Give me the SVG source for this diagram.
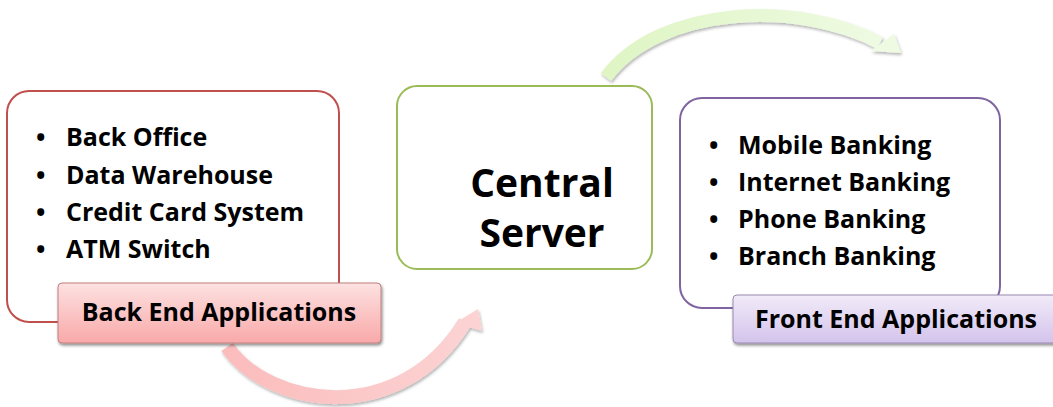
<svg xmlns="http://www.w3.org/2000/svg" width="1053" height="407" viewBox="0 0 1053 407">
<style>
.box{fill:#fff;stroke-width:2}
.t{font-family:"Open Sans","Noto Sans","Liberation Sans",sans-serif;font-weight:bold;fill:#000}
.li{font-size:25px}
.b{font-size:25px}
.lab{font-size:25px}
</style>
<defs>
<linearGradient id="gPink" x1="0" y1="0" x2="0" y2="1"><stop offset="0" stop-color="#fde1e1"/><stop offset="1" stop-color="#f9a9a9"/></linearGradient>
<linearGradient id="gPurp" x1="0" y1="0" x2="0" y2="1"><stop offset="0" stop-color="#f1ebf8"/><stop offset="1" stop-color="#d4c3ec"/></linearGradient>
<linearGradient id="gGreen" x1="0" y1="0" x2="1" y2="0"><stop offset="0" stop-color="#dff5c4"/><stop offset="1" stop-color="#eefae2"/></linearGradient>
<linearGradient id="gRed" x1="0" y1="0" x2="1" y2="0"><stop offset="0" stop-color="#fbbcbc"/><stop offset="1" stop-color="#fcd2d2"/></linearGradient>
<filter id="sh" x="-10%" y="-20%" width="120%" height="150%"><feDropShadow dx="1" dy="2" stdDeviation="1.5" flood-color="#000" flood-opacity="0.45"/></filter>
<filter id="ash" x="-10%" y="-20%" width="120%" height="150%"><feDropShadow dx="1" dy="2" stdDeviation="1.5" flood-color="#000" flood-opacity="0.3"/></filter>
</defs>
<g id="connectors">
<g filter="url(#ash)">
<path d="M 606 77 C 660 5, 800 0, 880 43" fill="none" stroke="url(#gGreen)" stroke-width="13"/>
<polygon points="894,34 901,53 871,51" fill="#eefae2"/>
</g>
<g filter="url(#ash)">
<path d="M 227 347 C 270 408, 400 428, 465 322" fill="none" stroke="url(#gRed)" stroke-width="14"/>
<polygon points="478,309 482,331 455,323" fill="#fcd2d2"/>
</g>
</g>
<g id="back">
<rect class="box" x="7" y="91" width="332" height="231" rx="22" stroke="#c0504d"/>
<g class="t li">
<text class="b" x="36" y="146">•</text><text x="66" y="146">Back Office</text>
<text class="b" x="36" y="184">•</text><text x="66" y="184">Data Warehouse</text>
<text class="b" x="36" y="221">•</text><text x="66" y="221">Credit Card System</text>
<text class="b" x="36" y="258">•</text><text x="66" y="258">ATM Switch</text>
</g>
</g>
<g id="backLabel">
<rect x="58" y="283" width="323" height="60" rx="4" fill="url(#gPink)" stroke="#c08080" stroke-width="1" filter="url(#sh)"/>
<text class="t lab" x="219" y="321" text-anchor="middle">Back End Applications</text>
</g>
<g id="central">
<rect class="box" x="397" y="86" width="255" height="183" rx="20" stroke="#9bbb59"/>
<text class="t" font-size="39" x="542" y="197" text-anchor="middle">Central</text>
<text class="t" font-size="39" x="542" y="247" text-anchor="middle">Server</text>
</g>
<g id="front">
<rect class="box" x="680" y="98" width="320" height="210" rx="22" stroke="#8064a2"/>
<g class="t li">
<text class="b" x="709" y="154">•</text><text x="738" y="154">Mobile Banking</text>
<text class="b" x="709" y="191">•</text><text x="738" y="191">Internet Banking</text>
<text class="b" x="709" y="228">•</text><text x="738" y="228">Phone Banking</text>
<text class="b" x="709" y="265">•</text><text x="738" y="265">Branch Banking</text>
</g>
</g>
<g id="frontLabel">
<rect x="733" y="295" width="330" height="48" rx="4" fill="url(#gPurp)" stroke="#9a8ab0" stroke-width="1" filter="url(#sh)"/>
<text class="t lab" x="896" y="328" text-anchor="middle">Front End Applications</text>
</g>
</svg>
